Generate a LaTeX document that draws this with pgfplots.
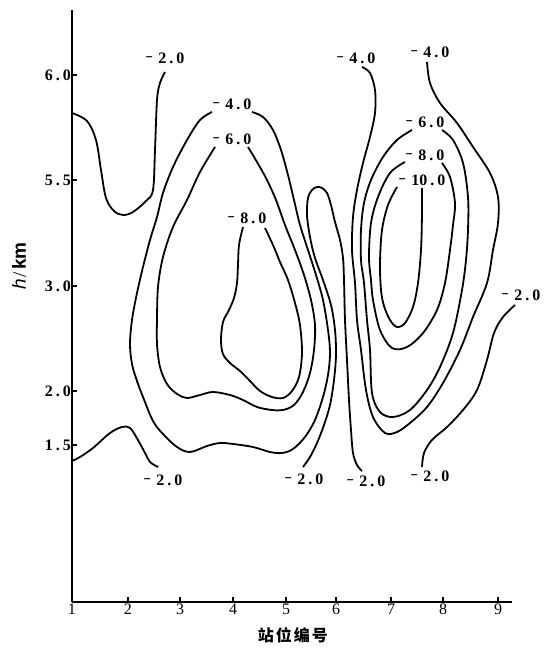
\documentclass[border=0pt]{standalone}
\usepackage{pgfplots}
\pgfplotsset{compat=1.18}
\usepackage{fontspec}
\setmainfont{Liberation Serif}
\newfontfamily\sans{Liberation Sans}
\newfontfamily\cjk{Noto Sans CJK SC}
\newcommand{\lbl}[2]{{\fontsize{16}{16}\selectfont\bfseries \raisebox{1.2pt}{\scalebox{0.8}[1]{−}}\kern5.5pt#1\kern3pt.\kern3pt#2}}
\newcommand{\tl}[2]{\textrm{\fontsize{16}{16}\selectfont\bfseries #1\kern3pt.\kern3pt#2}}
\newcommand{\xl}[1]{\textrm{\fontsize{16}{16}\selectfont #1}}
\begin{document}
\begin{tikzpicture}
\begin{axis}[
  x=1pt, y=1pt,
  xmin=72, xmax=512, ymin=0, ymax=592,
  axis x line=bottom, axis y line=left,
  axis line style={-, line width=1.4pt},
  clip=false,
  tick align=inside,
  major tick length=5pt,
  tick style={black, line width=1.1pt},
  xtick={72,128,180,233,286,336,391,443,498},
  xticklabels={\xl{1},\xl{2},\xl{3},\xl{4},\xl{5},\xl{6},\xl{7},\xl{8},\xl{9}},
  ytick={157,211,316,422,527},
  yticklabels={\tl{1}{5},\tl{2}{0},\tl{3}{0},\tl{5}{5},\tl{6}{0}},
  xticklabel style={inner sep=1pt, yshift=-1pt},
  yticklabel style={inner sep=0pt, xshift=-1pt},
  xlabel={\cjk\bfseries\fontsize{16}{16}\selectfont 站\kern2pt 位\kern2pt 编\kern2pt 号},
  xlabel style={at={(axis description cs:0.502,-0.0557)}, anchor=center},
  ylabel={\fontsize{19}{19}\selectfont{\sans\itshape h}\kern2pt/\kern2pt{\sans\bfseries km}},
  ylabel style={at={(axis description cs:-0.1205,0.5676)}, anchor=center, rotate=0},
  cl/.style={black, solid, line width=1.8pt, mark=none, smooth, tension=0.55},
]
% bounding area of the figure
\path (axis cs:0,-46) rectangle (axis cs:544,602);
% -2.0 top left
\addplot[cl] coordinates {(72,489)(87,481)(96,462)(101,432)(106,404)(114,391)(123,387)(133,390)(146,401)(153,412)(155,452)(157,502)(160,519)(165,530)};
% -2.0 bottom left
\addplot[cl] coordinates {(72,141)(80,145)(93,154)(110,169)(122,175)(130,174)(138,162)(145,149)(150,140)(158,135)};
% -4.0 left loop
\addplot[cl] coordinates {(212,490)(200,482)(187,462)(173,435)(163,409)(157,385)(150,362)(143,335)(137,309)(132,282)(130,258)(132,238)(137,221)(143,205)(153,181)(163,168)(177,155)(190,150)(207,156)(220,159)(233,158)(253,155)(270,150)(282,149)(293,153)(305,165)(315,182)(323,205)(328,227)(330,249)(328,272)(323,302)(316,327)(308,352)(300,377)(294,402)(288,427)(281,452)(273,472)(263,485)(252,490)};
% -6.0 left loop
\addplot[cl] coordinates {(215,455)(200,430)(187,402)(173,375)(163,345)(158,315)(157,282)(157,258)(160,235)(167,218)(177,208)(187,204)(200,207)(213,210)(230,207)(243,202)(257,195)(272,192)(283,192)(294,197)(303,210)(310,229)(314,252)(315,277)(311,302)(304,327)(295,352)(285,377)(276,402)(267,422)(257,440)(248,455)};
% -8.0 left loop
\addplot[cl] coordinates {(243,375)(239,357)(238,337)(237,319)(234,304)(229,292)(223,280)(221,262)(223,248)(230,239)(240,231)(250,221)(260,211)(272,205)(283,204)(292,211)(299,225)(302,249)(300,277)(295,299)(288,322)(280,340)(273,357)(265,374)};
% -2.0 tongue
\addplot[cl] coordinates {(303,135)(310,145)(317,159)(324,177)(330,197)(334,222)(336,247)(335,272)(331,297)(323,322)(315,344)(310,365)(307,387)(308,404)(312,412)(317,415)(322,414)(327,409)(331,397)(335,380)(340,362)(343,344)(344,322)(345,282)(347,242)(349,202)(351,172)(353,149)(357,137)(362,131)};
% -4.0 right outer loop
\addplot[cl] coordinates {(362,535)(370,529)(375,512)(375,489)(370,465)(363,439)(357,412)(353,385)(352,352)(355,319)(357,282)(361,252)(366,212)(373,185)(385,169)(397,170)(410,179)(427,195)(443,219)(460,252)(473,285)(487,319)(493,352)(498,379)(498,405)(490,429)(473,455)(457,479)(440,499)(430,519)(427,540)};
% -6.0 right loop
\addplot[cl] coordinates {(412,472)(397,462)(383,445)(371,422)(364,399)(361,372)(361,342)(364,319)(367,282)(370,252)(372,209)(380,190)(393,185)(410,192)(427,212)(440,235)(453,269)(462,312)(466,342)(468,372)(468,405)(463,439)(453,462)(442,472)};
% -8.0 right loop
\addplot[cl] coordinates {(405,440)(390,429)(378,405)(371,379)(369,345)(371,322)(373,302)(380,272)(392,254)(407,255)(423,269)(437,292)(445,319)(450,352)(453,377)(455,399)(450,425)(442,439)};
% -10.0 right loop
\addplot[cl] coordinates {(397,415)(388,397)(382,372)(380,339)(381,312)(384,296)(390,282)(397,275)(405,279)(413,295)(418,319)(421,352)(422,389)(422,414)};
% -2.0 right outer
\addplot[cl] coordinates {(515,297)(503,285)(494,269)(487,242)(477,212)(463,192)(447,175)(432,162)(424,149)(422,135)};
% contour labels
\node at (axis cs:165,544) {\lbl{2}{0}};
\node at (axis cs:232,498) {\lbl{4}{0}};
\node at (axis cs:232,463) {\lbl{6}{0}};
\node at (axis cs:247,384) {\lbl{8}{0}};
\node at (axis cs:356,544) {\lbl{4}{0}};
\node at (axis cs:430,550) {\lbl{4}{0}};
\node at (axis cs:425,480) {\lbl{6}{0}};
\node at (axis cs:425,447) {\lbl{8}{0}};
\node at (axis cs:422,422) {\lbl{10}{0}};
\node at (axis cs:521,307) {\lbl{2}{0}};
\node at (axis cs:163,122) {\lbl{2}{0}};
\node at (axis cs:304,123) {\lbl{2}{0}};
\node at (axis cs:366,121) {\lbl{2}{0}};
\node at (axis cs:430,126) {\lbl{2}{0}};
\end{axis}
\end{tikzpicture}
\end{document}
